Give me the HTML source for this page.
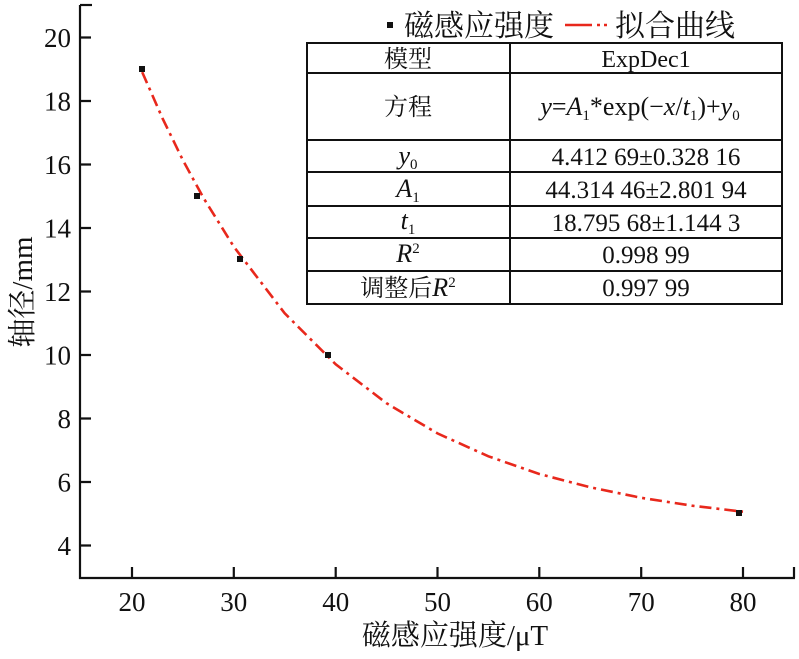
<!DOCTYPE html>
<html><head><meta charset="utf-8"><style>
body{margin:0;background:#fff}
svg text{font-family:"Liberation Serif","Noto Serif CJK SC",serif;fill:#111}
</style></head><body>
<svg width="799" height="654" viewBox="0 0 799 654" xmlns="http://www.w3.org/2000/svg">
<g stroke="#111" stroke-width="2.2" fill="none">
<path d="M80,5 V578 H795"/>
<path d="M80,5 H92"/>
<path d="M80,37.5h11M80,101h11M80,164.5h11M80,228h11M80,291.5h11M80,355h11M80,418.5h11M80,482h11M80,545.5h11"/>
<path d="M132,578v-11M233.8,578v-11M335.7,578v-11M437.5,578v-11M539.3,578v-11M641.2,578v-11M743,578v-11M794,578v-11"/>
</g>
<g font-size="27" text-anchor="end">
<text x="71" y="47">20</text><text x="71" y="110.5">18</text><text x="71" y="174">16</text><text x="71" y="237.5">14</text><text x="71" y="301">12</text><text x="71" y="364.5">10</text><text x="71" y="428">8</text><text x="71" y="491.5">6</text><text x="71" y="555">4</text>
</g>
<g font-size="27" text-anchor="middle">
<text x="132" y="611">20</text><text x="233.8" y="611">30</text><text x="335.7" y="611">40</text><text x="437.5" y="611">50</text><text x="539.3" y="611">60</text><text x="641.2" y="611">70</text><text x="743" y="611">80</text>
<text x="455" y="645" font-size="29">磁感应强度/μT</text>
<text transform="translate(32,292) rotate(-90)" font-size="29">轴径/mm</text>
</g>
<polyline fill="none" stroke="#e8281c" stroke-width="2.6" stroke-dasharray="12,5,3,5" points="142.2,72.1 162.5,118.3 182.9,160.2 203.3,197.6 233.8,246.7 284.7,313.3 335.7,364.3 386.6,403.3 437.5,433.4 488.4,456.3 539.3,474 590.2,487.3 641.2,497.8 692.1,505.7 743,511.7"/>
<g fill="#111">
<rect x="139" y="66" width="6" height="6"/><rect x="194" y="193" width="6" height="6"/><rect x="237" y="256" width="6" height="6"/><rect x="325" y="352" width="6" height="6"/><rect x="736" y="510" width="6" height="6"/>
<rect x="387" y="22" width="6" height="6"/>
</g>
<text x="404" y="36" font-size="30">磁感应强度</text>
<path d="M565,25 H592" stroke="#e8281c" stroke-width="2.6"/>
<path d="M597,25 h3 M604,25 h3" stroke="#e8281c" stroke-width="2.6"/>
<text x="615" y="36" font-size="30">拟合曲线</text>
<g stroke="#111" stroke-width="2" fill="none">
<rect x="307" y="43" width="475" height="261"/>
<path d="M510,43V304M307,73H782M307,140H782M307,172H782M307,206H782M307,238H782M307,271H782"/>
</g>
<g font-size="24" text-anchor="middle">
<text x="408" y="67">模型</text><text x="646" y="67">ExpDec1</text>
<text x="408" y="115">方程</text>
<text x="640" y="115" font-size="26"><tspan font-style="italic">y</tspan>=<tspan font-style="italic">A</tspan><tspan font-size="15" dy="5">1</tspan><tspan dy="-5">*exp(−</tspan><tspan font-style="italic">x</tspan>/<tspan font-style="italic">t</tspan><tspan font-size="15" dy="5">1</tspan><tspan dy="-5">)+</tspan><tspan font-style="italic">y</tspan><tspan font-size="15" dy="5">0</tspan></text>
<text x="408" y="164" font-size="26"><tspan font-style="italic">y</tspan><tspan font-size="15" dy="5">0</tspan></text><text x="646" y="165" font-size="25">4.412 69±0.328 16</text>
<text x="408" y="197" font-size="26"><tspan font-style="italic">A</tspan><tspan font-size="15" dy="5">1</tspan></text><text x="646" y="198" font-size="25">44.314 46±2.801 94</text>
<text x="408" y="229" font-size="26"><tspan font-style="italic">t</tspan><tspan font-size="15" dy="5">1</tspan></text><text x="646" y="231" font-size="25">18.795 68±1.144 3</text>
<text x="408" y="262" font-size="26"><tspan font-style="italic">R</tspan><tspan font-size="15" dy="-9">2</tspan></text><text x="646" y="263" font-size="25">0.998 99</text>
<text x="408" y="296">调整后<tspan font-style="italic" font-size="26">R</tspan><tspan font-size="15" dy="-9">2</tspan></text><text x="646" y="296" font-size="25">0.997 99</text>
</g>
</svg>
</body></html>
